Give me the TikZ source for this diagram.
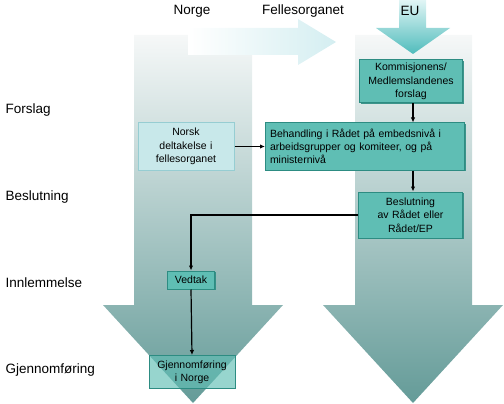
\documentclass[tikz,border=0pt]{standalone}
\usepackage{fontspec}
\setmainfont{Liberation Sans}
\usetikzlibrary{arrows.meta,shadows}

\definecolor{boxfill}{RGB}{95,190,180}
\definecolor{boxline}{RGB}{45,140,130}
\definecolor{lightfill}{RGB}{200,232,234}
\definecolor{lightline}{RGB}{150,205,210}
\definecolor{flowtop}{RGB}{246,248,248}
\definecolor{flowbot}{RGB}{100,155,152}
\definecolor{crossfill}{RGB}{212,238,241}
\definecolor{eutop}{RGB}{225,245,245}
\definecolor{eubot}{RGB}{80,188,188}

\begin{document}
\begin{tikzpicture}[x=1pt,y=-1pt,
		>={Latex[length=5pt,width=4.5pt]},
		dark/.style={rectangle,draw=boxline,fill=boxfill,line width=1pt,inner sep=2pt,align=center,
			drop shadow={shadow xshift=1.2pt,shadow yshift=-1.2pt,fill=boxline,opacity=0.9},
			font=\fontsize{10.5}{13.3}\selectfont},
		light/.style={rectangle,draw=lightline,fill=lightfill,line width=1pt,inner sep=2pt,align=center,
			drop shadow={shadow xshift=1.2pt,shadow yshift=-1.2pt,fill=lightline,opacity=0.9},
			font=\fontsize{10.5}{13.3}\selectfont},
		phase/.style={anchor=west,font=\fontsize{13.5}{16}\selectfont},
		side/.style={font=\fontsize{13.5}{16}\selectfont}
	]
	\useasboundingbox (0,0) rectangle (504,404);

	% big arrows
	\shade[top color=flowtop,bottom color=flowbot]
		(134,35) -- (252,35) -- (252,305) -- (283,305) -- (193,403) -- (103,305) -- (134,305) -- cycle;
	\shade[top color=flowtop,bottom color=flowbot]
		(355,35) -- (472,35) -- (472,305) -- (503,305) -- (413,403) -- (323,305) -- (355,305) -- cycle;
	\shade[left color=white,right color=crossfill]
		(188,28) -- (298,28) -- (298,19) -- (336,42) -- (298,65) -- (298,55) -- (188,55) -- cycle;
	\shade[top color=eutop,bottom color=eubot]
		(399,0) -- (426,0) -- (426,28) -- (450,28) -- (413,54) -- (376,28) -- (399,28) -- cycle;

	\node[side] (norge) at (192,11) {Norge};
	\node[side] (felles) at (303,11) {Fellesorganet};
	\node[side] (eu) at (410,11) {EU};

	\node[phase] (forslag) at (2,110) {Forslag};
	\node[phase] (beslut) at (2,197) {Beslutning};
	\node[phase] (innlem) at (2,283) {Innlemmelse};
	\node[phase] (gjennom) at (2,370) {Gjennomføring};

	\node[dark,minimum width=103pt,minimum height=43pt,text width=99pt] (komm) at (411,81.5)
		{Kommisjonens/\\Medlemslandenes\\forslag};
	\node[dark,minimum width=199pt,minimum height=47pt,text width=190pt,align=left] (behandling) at (365,146.5)
		{Behandling i Rådet på embedsnivå i\\arbeidsgrupper og komiteer, og på\\ministernivå};
	\node[light,minimum width=96pt,minimum height=47pt,text width=92pt] (norsk) at (186,146.5)
		{Norsk\\deltakelse i\\fellesorganet};
	\node[dark,minimum width=104pt,minimum height=46pt,text width=100pt] (beslutning) at (410.5,215)
		{Beslutning\\av Rådet eller\\Rådet/EP};
	\node[dark,minimum width=47pt,minimum height=18pt] (vedtak) at (191,280) {Vedtak};
	\node[rectangle,draw=boxline,fill=boxfill,fill opacity=0.65,text opacity=1,line width=1pt,inner sep=2pt,align=center,
		font=\fontsize{10.5}{13.3}\selectfont,minimum width=86pt,minimum height=33pt,text width=82pt] (gjnorge) at (192,372)
		{Gjennomføring\\i Norge};

	\draw[->,line width=1.2pt] (komm.south -| 413,0) -- (413,0 |- behandling.north);
	\draw[->,line width=1pt] (norsk.east) -- (behandling.west);
	\draw[->,line width=1.2pt] (413,0 |- behandling.south) -- (413,0 |- beslutning.north);
	\draw[->,line width=1.5pt] (beslutning.west) -| (vedtak.north);
	\draw[->,line width=1.2pt] (vedtak.south) -- (gjnorge.north);
\end{tikzpicture}
\end{document}
